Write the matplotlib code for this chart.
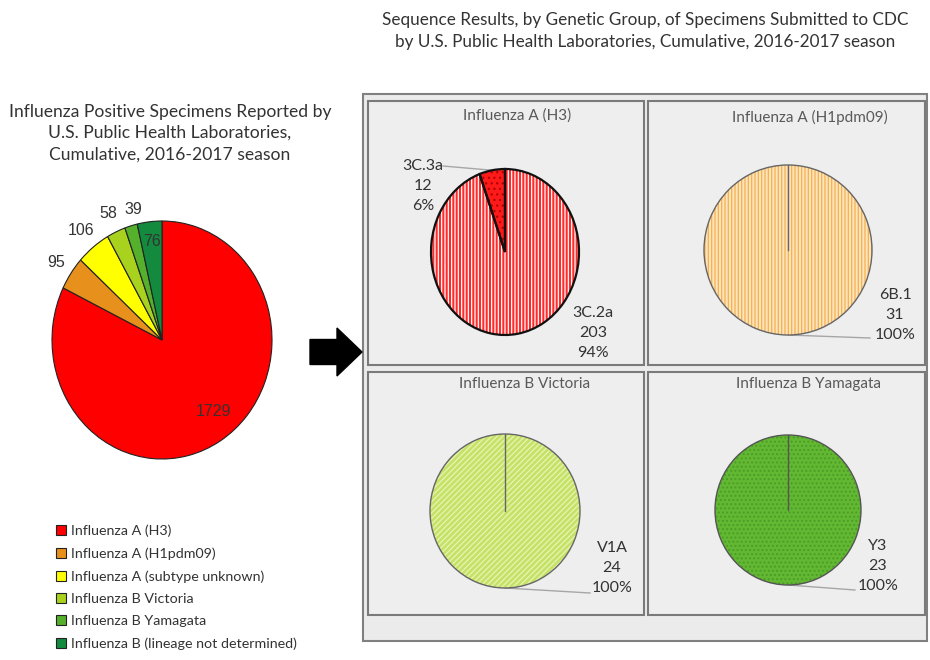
import matplotlib
matplotlib.use('Agg')
import matplotlib.pyplot as plt
import numpy as np
from matplotlib.patches import Rectangle, FancyArrow

# ---------------- data ----------------
categories = ['Influenza A (H3)', 'Influenza A (H1pdm09)', 'Influenza A (subtype unknown)',
              'Influenza B Victoria', 'Influenza B Yamagata', 'Influenza B (lineage not determined)']
counts = [1729, 95, 106, 58, 39, 76]

h3_groups = ['3C.3a', '3C.2a']
h3_counts = [12, 203]
h1_groups = ['6B.1']
h1_counts = [31]
vic_groups = ['V1A']
vic_counts = [24]
yam_groups = ['Y3']
yam_counts = [23]

left_title = 'Influenza Positive Specimens Reported by\nU.S. Public Health Laboratories,\nCumulative, 2016-2017 season'
right_title = ('Sequence Results, by Genetic Group, of Specimens Submitted to CDC\n'
               'by U.S. Public Health Laboratories, Cumulative, 2016-2017 season')
panel_titles = ['Influenza A (H3)', 'Influenza A (H1pdm09)', 'Influenza B Victoria', 'Influenza B Yamagata']

# ---------------- style ----------------
colors = ['#FF0000', '#E8901C', '#FFFF00', '#A8D21E', '#55B02C', '#138A3E']
FONT = ['Lato', 'DejaVu Sans']
plt.rcParams['hatch.linewidth'] = 0.9

W, H = 930, 660
fig = plt.figure(figsize=(W / 100, H / 100), dpi=100)
fig.patch.set_facecolor('white')


def pax(x0, y0, x1, y1):
    return fig.add_axes([x0 / W, 1 - y1 / H, (x1 - x0) / W, (y1 - y0) / H])


bg = fig.add_axes([0, 0, 1, 1])
bg.set_xlim(0, W)
bg.set_ylim(H, 0)
bg.axis('off')

# titles
bg.text(170, 133, left_title, ha='center', va='center', fontsize=12.6, family=FONT,
        color='#333333', linespacing=1.4)
bg.text(645, 31, right_title, ha='center', va='center', fontsize=12.3, family=FONT,
        color='#333333', linespacing=1.4)

# right side frames
bg.add_patch(Rectangle((363, 94), 564, 547, facecolor='#EBEBEB', edgecolor='#808080', lw=1.5))
panel_boxes = [(368, 101, 644, 365), (648, 101, 925, 365), (368, 372, 644, 615), (648, 372, 925, 615)]
for (x0, y0, x1, y1) in panel_boxes:
    bg.add_patch(Rectangle((x0, y0), x1 - x0, y1 - y0, facecolor='#EEEEEE',
                           edgecolor='#7A7A7A', lw=1.5))

# arrow
bg.add_patch(FancyArrow(310, 352, 52, 0, width=25, head_width=48, head_length=25,
                        length_includes_head=True, color='black'))

# ---------------- left pie ----------------
axL = pax(52, 221, 272, 459)
wedges, _ = axL.pie(counts, colors=colors, startangle=90, counterclock=False,
                    wedgeprops=dict(edgecolor='#222222', linewidth=0.8))
axL.set_aspect('auto')
axL.set_xlim(-1, 1)
axL.set_ylim(-1, 1)
axL.axis('off')
label_dist = [0.76, 1.16, 1.18, 1.17, 1.13, 0.83]
label_rot = [6, 0, 0, 0, -3, 0]
for w, c, d, r in zip(wedges, counts, label_dist, label_rot):
    m = np.deg2rad((w.theta1 + w.theta2) / 2 + r)
    axL.text(d * np.cos(m), d * np.sin(m), str(c), ha='center', va='center',
             fontsize=11.5, family=['Liberation Sans', 'DejaVu Sans'], color='#333333')

leg = fig.legend(wedges, categories, loc='upper left', bbox_to_anchor=(56 / W, 1 - 524 / H),
                 frameon=False, handlelength=0.7, handleheight=0.7, handletextpad=0.35,
                 labelspacing=0.73, borderaxespad=0, borderpad=0,
                 prop=dict(family=FONT, size=10.3))
for t in leg.get_texts():
    t.set_color('#333333')


# ---------------- sub pies ----------------
def sub_pie(cx, cy, rx, ry, vals, faces, hatches, hcolors, edge, lw):
    ax = pax(cx - rx, cy - ry, cx + rx, cy + ry)
    ws, _ = ax.pie(vals, colors=faces, startangle=90, counterclock=True,
                   wedgeprops=dict(linewidth=0))
    for w, h, hc in zip(ws, hatches, hcolors):
        w.set_hatch(h)
        w.set_edgecolor(hc)
        w.set_linewidth(0)
    ax.pie(vals, colors=faces, startangle=90, counterclock=True,
           wedgeprops=dict(fill=False, edgecolor=edge, linewidth=lw))
    if len(vals) == 1:
        ax.plot([0, 0], [0, 1], color=edge, lw=lw)
    ax.set_aspect('auto')
    ax.set_xlim(-1, 1)
    ax.set_ylim(-1, 1)
    ax.axis('off')
    return ws


def lab(groups, vals, i):
    tot = sum(vals)
    return f'{groups[i]}\n{vals[i]}\n{100 * vals[i] / tot:.0f}%'


LBL = dict(ha='center', va='center', fontsize=11.5, family=FONT, color='#333333', linespacing=1.55)
LEAD = dict(color='#A6A6A6', lw=1)
TTL = dict(ha='center', va='center', fontsize=11, family=FONT, color='#595959')

# panel 1: H3
sub_pie(505, 252, 74, 83, h3_counts, ['#FF1A1A', '#FF2A2A'], ['...', '|||||'],
        ['#B00000', 'white'], '#111111', 1.6)
bg.text(517, 116, panel_titles[0], **TTL)
bg.text(423, 186, lab(h3_groups, h3_counts, 0), **LBL)
bg.text(593, 333, lab(h3_groups, h3_counts, 1), **LBL)
m = np.deg2rad(90 + 360 * h3_counts[0] / sum(h3_counts) / 2)
bg.plot([443, 505 + 74 * np.cos(m)], [166, 252 - 83 * np.sin(m)], **LEAD)

# panel 2: H1pdm09
sub_pie(788, 250, 84, 85, h1_counts, ['#FEE4BC'], ['|||||'], ['#F4B04E'], '#666666', 1.0)
bg.text(810, 117, panel_titles[1], **TTL)
bg.text(895, 315, lab(h1_groups, h1_counts, 0), **LBL)
bg.plot([788, 870], [335, 338], **LEAD)

# panel 3: Victoria
sub_pie(505, 511, 75, 77, vic_counts, ['#C6E266'], ['//////'], ['#E6F4B4'], '#666666', 1.0)
bg.text(525, 384, panel_titles[2], **TTL)
bg.text(612, 568, lab(vic_groups, vic_counts, 0), **LBL)
bg.plot([505, 590], [588, 593], **LEAD)

# panel 4: Yamagata
sub_pie(788, 510, 73, 75, yam_counts, ['#62B832'], ['....'], ['#4C9C24'], '#555555', 1.0)
bg.text(808, 384, panel_titles[3], **TTL)
bg.text(878, 566, lab(yam_groups, yam_counts, 0), **LBL)
bg.plot([788, 855], [585, 590], **LEAD)

fig.savefig('out.png', dpi=100)
